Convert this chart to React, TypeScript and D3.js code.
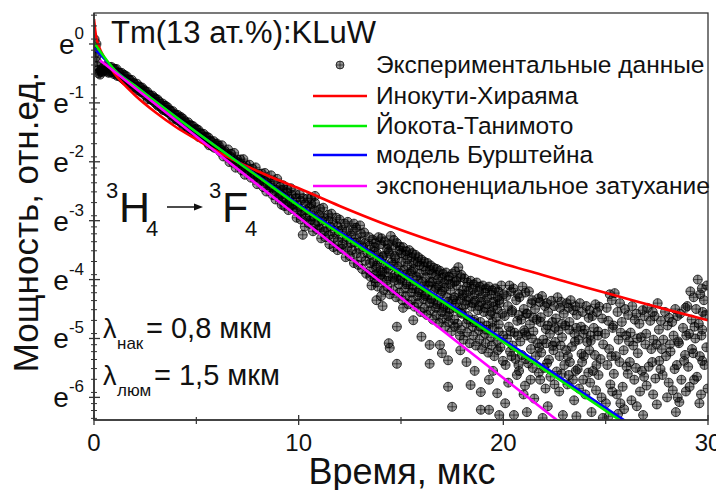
import React from 'react';
import * as d3 from 'd3';

const W = 716;
const H = 490;
const PL = 94, PR = 708, PT = 13, PB = 420;

// axes
const xDomain: [number, number] = [0, 30];
const yLnDomain: [number, number] = [-6.384, 0.526]; // natural log of intensity
const xTicksMajor = [0, 10, 20, 30];
const xTicksMinor = [5, 15, 25];
const yTicksMajor = [0, -1, -2, -3, -4, -5, -6];
const yMinorFactors = [0.4, 0.5, 0.6, 0.7, 0.8, 0.9];

const titleText = 'Tm(13 ат.%):KLuW';
const xTitle = 'Время, мкс';
const yTitle = 'Мощность, отн.ед.';
const legendLabels = [
  'Экспериментальные данные',
  'Инокути-Хираяма',
  'Йокота-Танимото',
  'модель Бурштейна',
  'экспоненциальное затухание',
];
const lineColors = ['#ff0000', '#00ee00', '#0000ff', '#ff00ff'];

// fitted curves [t (мкс), ln I]
const inokuti: [number, number][] = [
  [0, 0.42], [0.1, 0.13], [0.25, -0.05], [0.5, -0.23], [1, -0.5], [1.5, -0.7], [2, -0.87],
  [3, -1.16], [4, -1.41], [5, -1.62], [6, -1.82], [7, -2.0], [8, -2.16], [9, -2.31],
  [10, -2.45], [12, -2.75], [14, -3.03], [16, -3.28], [18, -3.51], [20, -3.73],
  [22, -3.93], [24, -4.13], [26, -4.32], [28, -4.51], [30, -4.69],
];
const yokota: [number, number][] = [
  [0, 0.02], [0.5, -0.22], [1, -0.44], [2, -0.71], [4, -1.24], [6, -1.75], [8, -2.25],
  [10, -2.75], [12, -3.22], [14, -3.68], [16, -4.14], [18, -4.6], [20, -5.06],
  [22, -5.53], [24, -5.99], [26, -6.46],
];
const burshtein: [number, number][] = [
  [0, -0.07], [0.5, -0.25], [1, -0.44], [2, -0.71], [4, -1.24], [6, -1.75], [8, -2.24],
  [10, -2.73], [12, -3.19], [14, -3.65], [16, -4.11], [18, -4.56], [20, -5.02],
  [22, -5.48], [24, -5.95], [26, -6.41],
];
const exponential: [number, number][] = [
  [0.3, -0.28], [5, -1.57], [10, -2.94], [15, -4.31], [20, -5.67], [23, -6.49],
];

// experimental points [t, ln I]
const expStart: [number, number][] = [
  [0.03, 0.08], [0.06, -0.05], [0.08, -0.15], [0.1, -0.22], [0.12, 0.0], [0.14, -0.3],
  [0.17, -0.38], [0.2, -0.44], [0.22, -0.5], [0.26, -0.47], [0.3, -0.52], [0.34, -0.45],
  [0.38, -0.48], [0.42, -0.42], [0.46, -0.46],
];
const expBand: [number, number][] = [
  [0.5, -0.39], [0.625, -0.47], [0.75, -0.39], [0.875, -0.47], [1.0, -0.42], [1.125, -0.54],
  [1.25, -0.49], [1.375, -0.58], [1.5, -0.53], [1.625, -0.64], [1.75, -0.61], [1.875, -0.73],
  [2.0, -0.69], [2.125, -0.78], [2.25, -0.73], [2.375, -0.82], [2.5, -0.8], [2.625, -0.94],
  [2.75, -0.88], [2.875, -0.96], [3.0, -0.93], [3.125, -1.05], [3.25, -1.02], [3.375, -1.12],
  [3.5, -1.05], [3.625, -1.16], [3.75, -1.14], [3.875, -1.27], [4.0, -1.2], [4.125, -1.3],
  [4.25, -1.24], [4.375, -1.39], [4.5, -1.35], [4.625, -1.44], [4.75, -1.38], [4.875, -1.48],
  [5.0, -1.44], [5.125, -1.58], [5.25, -1.53], [5.375, -1.62], [5.5, -1.57], [5.625, -1.72],
  [5.75, -1.67], [5.875, -1.76], [6.0, -1.69],
  [0.56, -0.45], [0.69, -0.41], [0.81, -0.48], [0.94, -0.42], [1.06, -0.5], [1.19, -0.48],
  [1.31, -0.56], [1.44, -0.52], [1.56, -0.62], [1.69, -0.6], [1.81, -0.69], [1.94, -0.66],
  [2.06, -0.75], [2.19, -0.72], [2.31, -0.82], [2.44, -0.78], [2.56, -0.88], [2.69, -0.86],
  [2.81, -0.95], [2.94, -0.91], [3.06, -1.02], [3.19, -0.98], [3.31, -1.09], [3.44, -1.05],
  [3.56, -1.15], [3.69, -1.12], [3.81, -1.22], [3.94, -1.19], [4.06, -1.29], [4.19, -1.25],
  [4.31, -1.35], [4.44, -1.31], [4.56, -1.42], [4.69, -1.38], [4.81, -1.48], [4.94, -1.45],
  [5.06, -1.55], [5.19, -1.51], [5.31, -1.61], [5.44, -1.58], [5.56, -1.68], [5.69, -1.64],
  [5.81, -1.74], [5.94, -1.7],
];
const expBandEdges: [number, number][] = [
  [0.6, -0.37], [0.85, -0.39], [1.1, -0.425], [1.35, -0.49], [1.6, -0.55], [1.85, -0.61],
  [2.1, -0.675], [2.35, -0.74], [2.6, -0.81], [2.85, -0.875], [3.1, -0.94], [3.35, -1.01],
  [3.6, -1.075], [3.85, -1.14], [4.1, -1.205], [4.35, -1.27], [4.6, -1.33], [4.85, -1.395],
  [5.1, -1.46], [5.35, -1.525], [5.6, -1.59], [5.85, -1.65],
  [0.72, -0.49], [0.97, -0.51], [1.22, -0.545], [1.47, -0.61], [1.72, -0.67], [1.97, -0.73],
  [2.22, -0.795], [2.47, -0.86], [2.72, -0.93], [2.97, -0.995], [3.22, -1.06], [3.47, -1.13],
  [3.72, -1.195], [3.97, -1.26], [4.22, -1.325], [4.47, -1.39], [4.72, -1.45], [4.97, -1.515],
  [5.22, -1.58], [5.47, -1.645], [5.72, -1.71], [5.97, -1.77],
  [6.05, -1.76], [6.2, -1.8], [6.35, -1.84], [6.5, -1.875], [6.65, -1.91], [6.8, -1.95],
  [6.95, -1.99], [7.1, -2.025], [7.25, -2.06], [7.4, -2.1], [7.55, -2.14], [7.7, -2.175],
  [7.85, -2.21], [8.0, -2.25], [8.15, -2.29], [8.3, -2.325], [8.45, -2.36], [8.6, -2.4],
  [8.75, -2.44], [8.9, -2.475], [9.05, -2.51],
];
const expBandWide: [number, number][] = [
  [6.1, -1.725], [6.25, -1.72], [6.4, -1.82], [6.55, -1.79], [6.7, -1.865], [6.85, -1.85],
  [7.0, -1.96], [7.15, -1.96], [7.3, -1.955], [7.45, -2.06], [7.6, -2.05], [7.75, -2.12],
  [7.9, -2.095], [8.05, -2.2], [8.2, -2.2], [8.35, -2.19], [8.5, -2.295], [8.65, -2.23],
  [8.8, -2.33], [8.95, -2.29], [9.1, -2.425],
  [6.17, -1.83], [6.32, -1.91], [6.47, -1.9], [6.62, -2.005], [6.77, -2.0], [6.92, -2.1],
  [7.07, -2.07], [7.22, -2.145], [7.37, -2.22], [7.52, -2.17], [7.67, -2.27], [7.82, -2.275],
  [7.97, -2.38], [8.12, -2.33], [8.27, -2.43], [8.42, -2.505], [8.57, -2.47], [8.72, -2.56],
  [8.87, -2.64], [9.02, -2.605], [9.17, -2.73],
];
const expBreak: [number, number][] = [
  [9.25, -2.4], [9.45, -2.47], [9.62, -2.45], [9.85, -2.55], [10.05, -2.55], [10.22, -2.62],
  [10.45, -2.62], [10.62, -2.72], [10.8, -2.7], [11.05, -2.8], [11.2, -2.78], [11.45, -2.9],
  [11.6, -2.88], [11.85, -2.95], [12.0, -2.98], [12.25, -3.05], [12.4, -3.02], [12.65, -3.15],
  [12.8, -3.12], [13.05, -3.22], [13.2, -3.2], [13.45, -3.28],
  [9.15, -2.56], [9.35, -2.62], [9.55, -2.63], [9.75, -2.72], [9.95, -2.74], [10.15, -2.83],
  [10.35, -2.82], [10.55, -2.93], [10.75, -2.92], [10.95, -3.02], [11.15, -3.0], [11.35, -3.12],
  [11.55, -3.1], [11.75, -3.2], [11.95, -3.18], [12.15, -3.3], [12.35, -3.28], [12.55, -3.38],
  [12.75, -3.37], [12.95, -3.47], [13.15, -3.45], [13.35, -3.55],
  [9.3, -2.75], [9.5, -2.82], [9.7, -2.8], [9.9, -2.95], [10.1, -2.98], [10.3, -3.1],
  [10.5, -3.05], [10.7, -3.18], [10.9, -3.15], [11.1, -3.3], [11.3, -3.28], [11.5, -3.4],
  [11.7, -3.45], [11.9, -3.5], [12.1, -3.48], [12.3, -3.62], [12.5, -3.6], [12.7, -3.72],
  [12.9, -3.75], [13.1, -3.82], [13.3, -3.9], [13.5, -3.95],
  [10.2, -3.24], [10.6, -2.62], [10.8, -2.58], [12.7, -3.05], [13.0, -3.08],
  [9.2, -2.48], [9.42, -2.52], [9.65, -2.56], [9.87, -2.62], [10.1, -2.66], [10.32, -2.72],
  [10.55, -2.78], [10.77, -2.82], [11.0, -2.9], [11.22, -2.95], [11.45, -3.0], [11.67, -3.04],
  [11.9, -3.1], [12.12, -3.15], [12.35, -3.18], [12.57, -3.25], [12.8, -3.3], [13.02, -3.35],
  [13.25, -3.38], [13.47, -3.42],
  [9.22, -2.66], [9.45, -2.72], [9.67, -2.74], [9.9, -2.84], [10.12, -2.9], [10.35, -2.96],
  [10.57, -3.0], [10.8, -3.06], [11.02, -3.14], [11.25, -3.18], [11.47, -3.25], [11.7, -3.3],
  [11.92, -3.35], [12.15, -3.4], [12.37, -3.45], [12.6, -3.5], [12.82, -3.56], [13.05, -3.62],
  [13.27, -3.68], [13.5, -3.72],
];
const expCloudMid: [number, number][] = [
  [13.6, -3.32], [13.72, -3.45], [13.52, -3.58], [13.65, -3.7], [13.48, -3.86], [13.7, -3.98], [13.56, -4.1],
  [13.9, -3.28], [14.02, -3.4], [13.82, -3.55], [13.95, -3.66], [13.78, -3.8], [14.0, -3.93], [13.86, -4.12],
  [14.2, -3.35], [14.32, -3.48], [14.12, -3.6], [14.25, -3.74], [14.08, -3.88], [14.3, -4.02], [14.16, -4.18],
  [14.5, -3.26], [14.62, -3.42], [14.42, -3.56], [14.55, -3.71], [14.38, -3.83], [14.6, -3.97], [14.46, -4.25],
  [14.8, -3.38], [14.92, -3.5], [14.72, -3.64], [14.85, -3.78], [14.68, -3.92], [14.9, -4.08], [14.76, -4.3],
  [15.1, -3.45], [15.22, -3.58], [15.02, -3.7], [15.15, -3.84], [14.98, -3.98], [15.2, -4.15], [15.06, -4.35],
  [15.4, -3.5], [15.52, -3.62], [15.32, -3.76], [15.45, -3.9], [15.28, -4.05], [15.5, -4.22], [15.36, -4.42],
  [15.7, -3.58], [15.82, -3.7], [15.62, -3.82], [15.75, -3.95], [15.58, -4.1], [15.8, -4.28], [15.66, -4.46],
  [16.0, -3.66], [16.12, -3.78], [15.92, -3.9], [16.05, -4.04], [15.88, -4.18], [16.1, -4.33], [15.96, -4.55],
  [16.3, -3.72], [16.42, -3.84], [16.22, -3.96], [16.35, -4.1], [16.18, -4.25], [16.4, -4.4], [16.26, -4.6],
  [16.6, -3.8], [16.72, -3.92], [16.52, -4.04], [16.65, -4.18], [16.48, -4.32], [16.7, -4.48], [16.56, -4.68],
  [16.9, -3.85], [17.02, -3.97], [16.82, -4.1], [16.95, -4.24], [16.78, -4.38], [17.0, -4.55], [16.86, -4.74],
  [17.2, -3.88], [17.32, -4.0], [17.12, -4.14], [17.25, -4.3], [17.08, -4.45], [17.3, -4.62], [17.16, -4.8],
  [17.5, -3.9], [17.62, -4.04], [17.42, -4.18], [17.55, -4.34], [17.38, -4.5], [17.6, -4.68], [17.46, -4.88],
  [17.8, -3.79], [17.92, -3.96], [17.72, -4.1], [17.85, -4.24], [17.68, -4.4], [17.9, -4.56], [17.76, -4.75], [17.88, -4.95],
  [18.1, -3.98], [18.22, -4.12], [18.02, -4.26], [18.15, -4.42], [17.98, -4.58], [18.2, -4.74], [18.06, -5.02],
  [18.4, -4.02], [18.52, -4.16], [18.32, -4.3], [18.45, -4.46], [18.28, -4.62], [18.5, -4.8], [18.36, -5.08],
  [18.7, -4.05], [18.82, -4.2], [18.62, -4.36], [18.75, -4.52], [18.58, -4.68], [18.8, -4.86], [18.66, -5.12],
  [19.0, -4.1], [19.12, -4.22], [18.92, -4.38], [19.05, -4.55], [18.88, -4.72], [19.1, -4.92], [18.96, -5.18],
  [19.3, -4.12], [19.42, -4.26], [19.22, -4.42], [19.35, -4.6], [19.18, -4.78], [19.4, -4.98], [19.26, -5.24],
  [19.6, -4.15], [19.72, -4.3], [19.52, -4.46], [19.65, -4.64], [19.48, -4.82], [19.7, -5.04], [19.56, -5.3],
  [19.9, -4.1], [20.02, -4.25], [19.82, -4.4], [19.95, -4.58], [19.78, -4.76], [20.0, -4.95], [19.86, -5.15], [19.98, -5.38],
  [14.4, -5.08], [14.45, -5.16], [14.8, -4.8], [14.8, -5.43], [15.1, -4.48], [15.6, -4.69],
  [16.0, -4.97], [16.4, -5.11], [16.4, -5.43], [16.9, -5.11], [17.0, -5.25], [17.3, -5.37],
  [17.3, -5.82], [17.5, -6.16], [18.4, -5.79], [18.9, -5.91], [18.9, -6.21], [19.3, -6.21],
  [19.7, -5.93], [19.3, -5.7], [18.2, -5.4], [18.6, -5.55], [19.5, -5.55], [19.8, -6.3],
  [17.9, -5.2], [14.1, -4.45], [13.8, -4.35],
];
const expCloudMid2: [number, number][] = [
  [13.75, -3.38], [13.7, -3.52], [13.8, -3.76], [13.74, -3.92], [13.77, -4.05],
  [14.05, -3.3], [14.1, -3.62], [14.0, -3.85], [14.07, -3.98], [14.03, -4.28],
  [14.35, -3.4], [14.4, -3.52], [14.3, -3.8], [14.37, -3.95], [14.33, -4.12],
  [14.65, -3.33], [14.7, -3.6], [14.6, -3.75], [14.67, -4.02], [14.63, -4.18],
  [14.95, -3.44], [15.0, -3.55], [14.9, -3.88], [14.97, -4.0], [14.93, -4.22],
  [15.25, -3.52], [15.3, -3.66], [15.2, -3.92], [15.27, -4.08], [15.23, -4.28],
  [15.55, -3.55], [15.6, -3.72], [15.5, -3.86], [15.57, -4.15], [15.53, -4.35],
  [15.85, -3.62], [15.9, -3.76], [15.8, -4.0], [15.87, -4.22], [15.83, -4.4],
  [16.15, -3.7], [16.2, -3.85], [16.1, -4.12], [16.17, -4.28], [16.13, -4.48],
  [16.45, -3.76], [16.5, -3.9], [16.4, -4.05], [16.47, -4.34], [16.43, -4.52],
  [16.75, -3.82], [16.8, -4.0], [16.7, -4.14], [16.77, -4.42], [16.73, -4.6],
  [17.05, -3.9], [17.1, -4.06], [17.0, -4.2], [17.07, -4.48], [17.03, -4.66],
  [17.35, -3.95], [17.4, -4.08], [17.3, -4.38], [17.37, -4.55], [17.33, -4.72],
  [17.65, -3.86], [17.7, -4.02], [17.6, -4.3], [17.67, -4.48], [17.63, -4.8],
  [17.95, -3.92], [18.0, -4.18], [17.9, -4.34], [17.97, -4.5], [17.93, -4.85],
  [18.25, -4.05], [18.3, -4.2], [18.2, -4.36], [18.27, -4.68], [18.23, -4.9],
  [18.55, -4.08], [18.6, -4.25], [18.5, -4.4], [18.57, -4.72], [18.53, -4.95],
  [18.85, -4.12], [18.9, -4.3], [18.8, -4.45], [18.87, -4.8], [18.83, -5.02],
  [19.15, -4.15], [19.2, -4.32], [19.1, -4.48], [19.17, -4.85], [19.13, -5.08],
  [19.45, -4.18], [19.5, -4.38], [19.4, -4.55], [19.47, -4.72], [19.43, -5.12],
  [19.75, -4.2], [19.8, -4.35], [19.7, -4.5], [19.77, -4.88], [19.73, -5.2],
];
const expCloudLate: [number, number][] = [
  [20.3, -4.1], [20.15, -4.28], [20.22, -4.45], [20.07, -4.62], [20.27, -4.8], [20.18, -5.0], [20.33, -5.22], [20.11, -5.45], [20.24, -5.75], [20.09, -6.1],
  [20.49, -4.15], [20.63, -4.35], [20.43, -4.52], [20.68, -4.7], [20.55, -4.9], [20.45, -5.12], [20.6, -5.35], [20.66, -5.62], [20.52, -6.3],
  [20.94, -4.12], [20.79, -4.3], [21.0, -4.5], [20.88, -4.68], [21.02, -4.86], [20.83, -5.05], [20.9, -5.28], [20.77, -5.55], [20.99, -5.95],
  [21.25, -4.2], [21.37, -4.4], [21.17, -4.58], [21.3, -4.76], [21.13, -4.95], [21.35, -5.18], [21.21, -5.42], [21.33, -5.7], [21.15, -6.25],
  [21.7, -4.32], [21.55, -4.5], [21.62, -4.68], [21.47, -4.88], [21.67, -5.08], [21.58, -5.3], [21.73, -5.58], [21.51, -6.02],
  [21.89, -4.28], [22.03, -4.45], [21.83, -4.64], [22.08, -4.84], [21.95, -5.02], [21.85, -5.24], [22.0, -5.5], [22.06, -5.85], [21.92, -6.35],
  [22.34, -4.36], [22.19, -4.55], [22.4, -4.72], [22.28, -4.92], [22.42, -5.12], [22.23, -5.36], [22.3, -5.65], [22.17, -6.15],
  [22.65, -4.3], [22.77, -4.48], [22.57, -4.66], [22.7, -4.86], [22.53, -5.06], [22.75, -5.3], [22.61, -5.56], [22.73, -5.9],
  [23.1, -4.4], [22.95, -4.58], [23.02, -4.78], [22.87, -4.98], [23.07, -5.2], [22.98, -5.45], [23.13, -5.78], [22.91, -6.3],
  [23.29, -4.35], [23.43, -4.52], [23.23, -4.72], [23.48, -4.92], [23.35, -5.14], [23.25, -5.4], [23.4, -5.7], [23.46, -6.05],
  [23.74, -4.4], [23.59, -4.6], [23.8, -4.8], [23.68, -5.02], [23.82, -5.26], [23.63, -5.52], [23.7, -5.85], [23.57, -6.32],
  [24.05, -4.45], [24.17, -4.65], [23.97, -4.85], [24.1, -5.06], [23.93, -5.3], [24.15, -5.58], [24.01, -5.95],
  [24.5, -4.42], [24.35, -4.62], [24.42, -4.82], [24.27, -5.04], [24.47, -5.28], [24.38, -5.55], [24.53, -5.88], [24.31, -6.25],
  [24.69, -4.46], [24.83, -4.66], [24.63, -4.88], [24.88, -5.1], [24.75, -5.35], [24.65, -5.62], [24.8, -6.0], [24.86, -6.35],
  [20.38, -4.2], [20.42, -4.55], [20.35, -4.88], [20.4, -5.3],
  [20.72, -4.25], [20.76, -4.6], [20.7, -4.95], [20.74, -5.45],
  [21.08, -4.22], [21.12, -4.58], [21.05, -4.9], [21.1, -5.35], [21.06, -5.8],
  [21.42, -4.35], [21.46, -4.65], [21.4, -5.0], [21.44, -5.5],
  [21.78, -4.38], [21.82, -4.72], [21.75, -5.15], [21.8, -5.7],
  [22.12, -4.4], [22.16, -4.78], [22.1, -5.08], [22.14, -5.42],
  [22.48, -4.45], [22.52, -4.82], [22.45, -5.2], [22.5, -5.78],
  [22.83, -4.38], [22.87, -4.75], [22.8, -5.12], [22.85, -5.6],
  [23.18, -4.48], [23.22, -4.85], [23.15, -5.3], [23.2, -5.62],
  [23.52, -4.45], [23.56, -4.82], [23.5, -5.05], [23.54, -5.55],
  [23.88, -4.55], [23.92, -4.92], [23.85, -5.4], [23.9, -5.7],
  [24.22, -4.52], [24.26, -4.95], [24.2, -5.2], [24.24, -5.75],
  [24.58, -4.55], [24.62, -4.95], [24.55, -5.45],
];
const expTail: [number, number][] = [
  [25.2, -4.25], [25.05, -4.48], [25.12, -4.7], [24.97, -4.92], [25.17, -5.18], [25.08, -5.45], [25.23, -5.78], [25.01, -6.1], [25.14, -6.32],
  [25.44, -4.23], [25.58, -4.55], [25.38, -4.78], [25.63, -5.02], [25.5, -5.3], [25.4, -5.6], [25.55, -5.95], [25.61, -6.28],
  [25.94, -4.5], [25.79, -4.72], [26.0, -4.95], [25.88, -5.2], [26.02, -5.48], [25.83, -5.82], [25.9, -6.2],
  [26.3, -4.45], [26.42, -4.68], [26.22, -4.9], [26.35, -5.12], [26.18, -5.4], [26.4, -5.7], [26.26, -6.05],
  [26.8, -4.52], [26.65, -4.75], [26.72, -4.98], [26.57, -5.25], [26.77, -5.55], [26.68, -5.9], [26.83, -6.3],
  [27.04, -4.48], [27.18, -4.7], [26.98, -4.92], [27.23, -5.18], [27.1, -5.48], [27.0, -5.8],
  [27.54, -4.4], [27.39, -4.62], [27.6, -4.85], [27.48, -5.1], [27.62, -5.38], [27.43, -5.68], [27.5, -6.12],
  [27.9, -4.55], [28.02, -4.78], [27.82, -5.02], [27.95, -5.3], [27.78, -5.62], [28.0, -6.0],
  [28.4, -4.5], [28.25, -4.72], [28.32, -4.95], [28.17, -5.22], [28.37, -5.52], [28.28, -5.88], [28.43, -6.25],
  [28.64, -4.58], [28.78, -4.82], [28.58, -5.08], [28.83, -5.38], [28.7, -5.7], [28.6, -6.08],
  [29.14, -4.2], [28.99, -4.45], [29.2, -4.68], [29.08, -4.92], [29.22, -5.18], [29.03, -5.48], [29.1, -5.82],
  [29.5, -4.0], [29.62, -4.25], [29.42, -4.5], [29.55, -4.75], [29.38, -5.0], [29.6, -5.3], [29.46, -5.65], [29.58, -6.1],
  [29.95, -4.1], [29.8, -4.35], [29.87, -4.6], [29.72, -4.85], [29.92, -5.15], [29.83, -5.45], [29.98, -5.85],
  [25.3, -4.35], [25.34, -4.82], [25.28, -5.3], [25.32, -5.9],
  [25.7, -4.4], [25.74, -4.9], [25.68, -5.4], [25.72, -6.1],
  [26.1, -4.6], [26.14, -5.05], [26.08, -5.6],
  [26.5, -4.58], [26.54, -5.0], [26.48, -5.5], [26.52, -6.15],
  [26.9, -4.62], [26.94, -5.1], [26.88, -5.65],
  [27.3, -4.55], [27.34, -5.02], [27.28, -5.4], [27.32, -5.95],
  [27.7, -4.7], [27.74, -5.18], [27.68, -5.52],
  [28.1, -4.65], [28.14, -5.1], [28.08, -5.75],
  [28.5, -4.62], [28.54, -5.05], [28.48, -5.45], [28.52, -6.0],
  [28.9, -4.48], [28.94, -4.95], [28.88, -5.28], [28.92, -5.9],
  [29.3, -4.3], [29.34, -4.8], [29.28, -5.25], [29.32, -5.7],
  [29.7, -4.15], [29.74, -4.55], [29.68, -4.95], [29.72, -5.38], [29.66, -5.95],
];

const FONT = "'Liberation Sans', Arial, sans-serif";

const x = d3.scaleLinear().domain(xDomain).range([PL, PR]);
const y = d3.scaleLinear().domain(yLnDomain).range([PB, PT]);

const Marker = ({ cx, cy, r = 4.5 }: { cx: number; cy: number; r?: number }) => (
  <g>
    <circle cx={cx} cy={cy} r={r} fill="rgba(0,0,0,0.42)" stroke="rgba(0,0,0,0.8)" strokeWidth={0.9} />
    <path
      d={`M${cx - r},${cy}H${cx + r}M${cx},${cy - r}V${cy + r}`}
      stroke="rgba(0,0,0,0.7)"
      strokeWidth={0.8}
    />
  </g>
);

export default function App() {
  const allPts = [
    ...expStart, ...expBand, ...expBandEdges, ...expBandWide, ...expBreak, ...expCloudMid,
    ...expCloudMid2, ...expCloudLate, ...expTail,
  ];
  const line = d3
    .line<[number, number]>()
    .x((d) => x(d[0]))
    .y((d) => y(d[1]))
    .curve(d3.curveMonotoneX);

  const yMinor: number[] = [];
  for (let n = 1; n >= -6; n--) {
    yMinorFactors.forEach((k) => {
      const v = n + Math.log(k);
      if (v > yLnDomain[0] && v < yLnDomain[1]) yMinor.push(v);
    });
  }

  const curves = [inokuti, burshtein, yokota, exponential];
  const curveColors = [lineColors[0], lineColors[2], lineColors[1], lineColors[3]];
  const legendRows = [65, 96, 126, 155, 186];

  return (
    <svg
      width={W}
      height={H}
      style={{ position: 'absolute', left: 0, top: 0, background: '#fff' }}
      fontFamily={FONT}
    >
      <defs>
        <clipPath id="plot">
          <rect x={PL} y={PT} width={PR - PL} height={PB - PT} />
        </clipPath>
      </defs>
      <rect x={0} y={0} width={W} height={H} fill="#fff" />

      <g clipPath="url(#plot)">
        {allPts.map((d, i) => (
          <Marker key={i} cx={x(d[0])} cy={y(d[1])} />
        ))}
        {curves.map((c, i) => (
          <path key={i} d={line(c) || ''} fill="none" stroke={curveColors[i]} strokeWidth={2.6} />
        ))}
      </g>

      {/* frame */}
      <rect x={PL} y={PT} width={PR - PL} height={PB - PT} fill="none" stroke="#333" strokeWidth={1.3} />
      <line x1={PL} x2={PR} y1={PB} y2={PB} stroke="#333" strokeWidth={1.6} />
      <line x1={PL} x2={PL} y1={PT} y2={PB} stroke="#333" strokeWidth={1.6} />

      {/* x ticks */}
      {xTicksMajor.map((t) => (
        <g key={'xt' + t}>
          <line x1={x(t)} x2={x(t)} y1={PB - 5} y2={PB + 5} stroke="#333" strokeWidth={1.3} />
          <text x={x(t)} y={451} fontSize={24} textAnchor="middle" fill="#111">
            {t}
          </text>
        </g>
      ))}
      {xTicksMinor.map((t) => (
        <line key={'xm' + t} x1={x(t)} x2={x(t)} y1={PB - 3} y2={PB + 4} stroke="#333" strokeWidth={1.2} />
      ))}

      {/* y ticks */}
      {yTicksMajor.map((t) => (
        <g key={'yt' + t}>
          <line x1={PL - 5} x2={PL + 6} y1={y(t)} y2={y(t)} stroke="#333" strokeWidth={1.3} />
          <text x={84} y={y(t) + 10} fontSize={28} textAnchor="end" fill="#111">
            e
            <tspan fontSize={17} dy={-15}>
              {t === 0 ? '0' : '-' + Math.abs(t)}
            </tspan>
          </text>
        </g>
      ))}
      {yMinor.map((v, i) => (
        <line key={'ym' + i} x1={PL - 3} x2={PL + 3} y1={y(v)} y2={y(v)} stroke="#333" strokeWidth={1} />
      ))}

      {/* axis titles */}
      <text x={402} y={484} fontSize={36} textAnchor="middle" fill="#111">
        {xTitle}
      </text>
      <text transform="translate(38,222) rotate(-90)" fontSize={35} textAnchor="middle" fill="#111">
        {yTitle}
      </text>

      {/* title */}
      <text x={111} y={43} fontSize={31} fill="#111">
        {titleText}
      </text>

      {/* legend */}
      <Marker cx={340} cy={legendRows[0]} r={4} />
      {lineColors.map((c, i) => (
        <line key={'lg' + i} x1={313} x2={367} y1={legendRows[i + 1]} y2={legendRows[i + 1]} stroke={c} strokeWidth={2.6} />
      ))}
      {legendLabels.map((l, i) => (
        <text key={'ll' + i} x={376} y={legendRows[i] + 8} fontSize={24.5} fill="#111">
          {l}
        </text>
      ))}

      {/* transition annotation */}
      <text x={106} y={198} fontSize={22} fill="#111">3</text>
      <text x={119} y={222} fontSize={43} fill="#111">H</text>
      <text x={146} y={236} fontSize={22} fill="#111">4</text>
      <line x1={167} x2={197} y1={207} y2={207} stroke="#111" strokeWidth={1.5} />
      <path d="M194,203.5L203,207L194,210.5Z" fill="#111" />
      <text x={209} y={198} fontSize={22} fill="#111">3</text>
      <text x={222} y={222} fontSize={43} fill="#111">F</text>
      <text x={245} y={236} fontSize={22} fill="#111">4</text>

      {/* wavelengths */}
      <text x={103} y={338} fontSize={27} fill="#111">λ</text>
      <text x={117} y={349} fontSize={17} fill="#111">нак</text>
      <text x={146} y={338} fontSize={29} fill="#111">= 0,8 мкм</text>
      <text x={103} y={385} fontSize={27} fill="#111">λ</text>
      <text x={117} y={396} fontSize={17} fill="#111">люм</text>
      <text x={154} y={385} fontSize={29} fill="#111">= 1,5 мкм</text>
    </svg>
  );
}
